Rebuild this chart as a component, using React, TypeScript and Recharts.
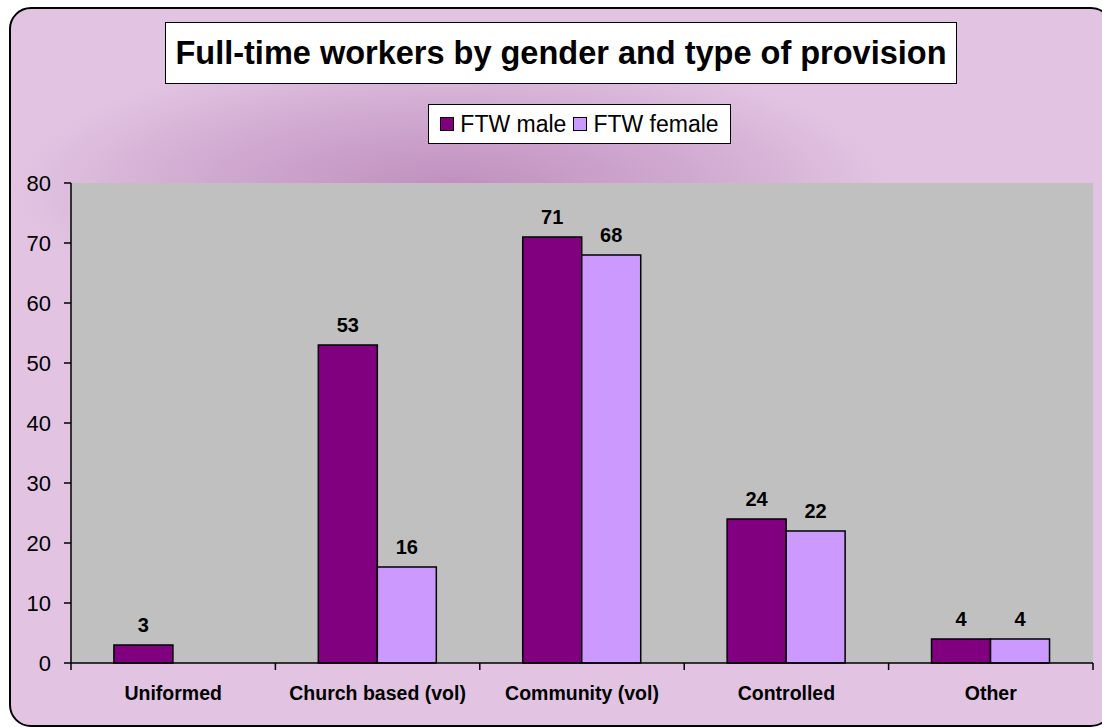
import { BarChart, Bar, XAxis, YAxis, CartesianGrid, LabelList } from "recharts";

const categories = ["Uniformed", "Church based (vol)", "Community (vol)", "Controlled", "Other"];
const ftwMale = [3, 53, 71, 24, 4];
const ftwFemale: (number | null)[] = [null, 16, 68, 22, 4];
const yTicks = [0, 10, 20, 30, 40, 50, 60, 70, 80];

const MALE = "#800080";
const FEMALE = "#CC99FF";
const FONT = "'Liberation Sans', Arial, sans-serif";

const chartData = categories.map((name, i) => ({ name, male: ftwMale[i], female: ftwFemale[i] }));

const PLOT_LEFT = 71;
const PLOT_RIGHT = 1093;
const PLOT_TOP = 183;
const PLOT_BOTTOM = 663;
const BAND = (PLOT_RIGHT - PLOT_LEFT) / categories.length;

const CategoryTick = (props: any) => {
  const { x, y, payload, index } = props;
  const left = x - BAND / 2;
  return (
    <g>
      <line x1={left} y1={y - 8} x2={left} y2={y - 1} stroke="#000" strokeWidth={1.5} />
      {index === categories.length - 1 && (
        <line x1={x + BAND / 2} y1={y - 8} x2={x + BAND / 2} y2={y - 1} stroke="#000" strokeWidth={1.5} />
      )}
      <text x={x} y={y + 29} textAnchor="middle" fontSize={19.5} fontWeight="bold" fontFamily={FONT} fill="#000">
        {payload.value}
      </text>
    </g>
  );
};

const valueLabel = (v: any) => (v === null || v === undefined ? "" : v);

const App = () => {
  return (
    <div
      style={{
        position: "absolute",
        left: 0,
        top: 0,
        width: 1102,
        height: 727,
        overflow: "hidden",
        background: "#fff",
        fontFamily: FONT,
      }}
    >
      <div
        style={{
          position: "absolute",
          left: 9,
          top: 7,
          width: 1100,
          height: 716,
          border: "2px solid #000",
          borderRadius: 22,
          background:
            "radial-gradient(ellipse 440px 140px at 440px 180px, #bf8fbe 0%, #d0a9d0 55%, #e2c4e2 100%)",
          backgroundColor: "#e2c4e2",
        }}
      />
      <div
        style={{
          position: "absolute",
          left: 165,
          top: 22,
          width: 790,
          height: 60,
          border: "1.5px solid #000",
          background: "#fff",
          display: "flex",
          alignItems: "center",
          justifyContent: "center",
          fontSize: 32.5,
          fontWeight: "bold",
        }}
      >
        Full-time workers by gender and type of provision
      </div>
      <div
        style={{
          position: "absolute",
          left: 428,
          top: 104,
          width: 301,
          height: 38,
          border: "1.5px solid #000",
          background: "#fff",
          display: "flex",
          alignItems: "center",
          justifyContent: "center",
          gap: 6,
          fontSize: 23,
        }}
      >
        <span style={{ width: 12, height: 12, background: MALE, border: "1.5px solid #000" }} />
        <span>FTW male</span>
        <span style={{ width: 12, height: 12, background: FEMALE, border: "1.5px solid #000", marginLeft: 1 }} />
        <span>FTW female</span>
      </div>
      <div style={{ position: "absolute", left: 0, top: 0 }}>
        <BarChart
          width={1102}
          height={727}
          data={chartData}
          margin={{ top: PLOT_TOP, right: 1102 - PLOT_RIGHT, bottom: 0, left: 0 }}
          barCategoryGap="21%"
          barGap={0}
        >
          <CartesianGrid fill="#C0C0C0" horizontal={false} vertical={false} stroke="none" />
          <YAxis
            width={PLOT_LEFT}
            domain={[0, 80]}
            ticks={yTicks}
            interval={0}
            tickSize={7}
            axisLine={{ stroke: "#000", strokeWidth: 1.5 }}
            tickLine={{ stroke: "#000", strokeWidth: 1.5 }}
            tick={{ fontSize: 22, fill: "#000", fontFamily: FONT }}
            tickMargin={13}
          />
          <XAxis
            dataKey="name"
            axisLine={{ stroke: "#000", strokeWidth: 1.5 }}
            tickLine={false}
            tick={<CategoryTick />}
            interval={0}
            height={727 - PLOT_BOTTOM}
          />
          <Bar dataKey="male" fill={MALE} stroke="#000" strokeWidth={1.5} isAnimationActive={false}>
            <LabelList dataKey="male" position="top" offset={13} formatter={valueLabel} fontSize={20} fontWeight="bold" fill="#000" fontFamily={FONT} />
          </Bar>
          <Bar dataKey="female" fill={FEMALE} stroke="#000" strokeWidth={1.5} isAnimationActive={false}>
            <LabelList dataKey="female" position="top" offset={13} formatter={valueLabel} fontSize={20} fontWeight="bold" fill="#000" fontFamily={FONT} />
          </Bar>
        </BarChart>
      </div>
    </div>
  );
};

export default App;
